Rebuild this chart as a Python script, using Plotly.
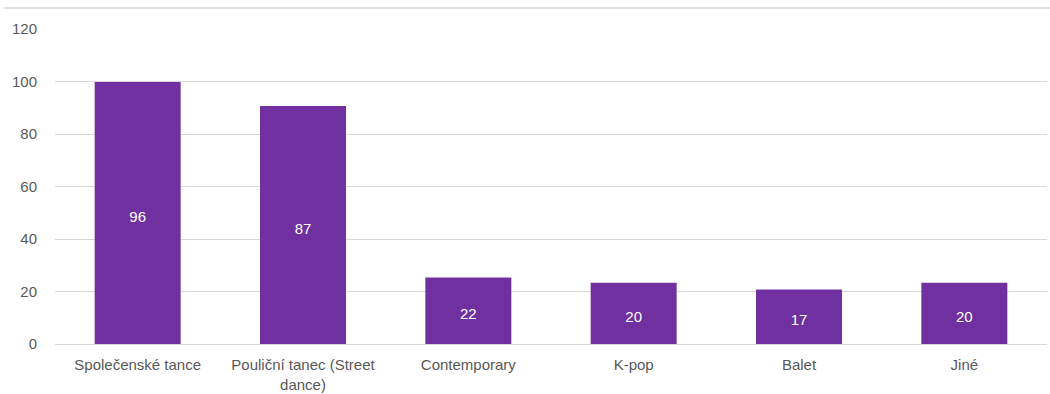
import plotly.graph_objects as go

categories = ["Společenské tance", "Pouliční tanec (Street<br>dance)", "Contemporary", "K-pop", "Balet", "Jiné"]
bar_heights = [99.8, 90.7, 25.3, 23.3, 20.8, 23.3]
label_values = [96, 87, 22, 20, 17, 20]
y_ticks = [0, 20, 40, 60, 80, 100, 120]

PURPLE = "#7030A0"
GRID = "#d9d9d9"
TEXT = "#595959"
FONT = "Liberation Sans"

fig = go.Figure()
fig.add_trace(go.Bar(
    x=categories, y=bar_heights,
    marker=dict(color=PURPLE, line=dict(width=0)),
    hoverinfo="skip",
))
fig.add_trace(go.Scatter(
    x=categories, y=[v / 2 for v in label_values],
    mode="text", text=[str(v) for v in label_values],
    textfont=dict(color="white", size=15, family=FONT),
    textposition="middle center", hoverinfo="skip",
))

fig.update_layout(
    width=1050, height=394,
    margin=dict(l=55, r=3, t=29, b=50),
    plot_bgcolor="white", paper_bgcolor="white",
    showlegend=False, bargap=0.48,
    font=dict(family=FONT, color=TEXT, size=15),
    shapes=[dict(type="line", xref="paper", yref="paper",
                 x0=-0.052, x1=1.003, y0=1.067, y1=1.067,
                 line=dict(color="#e0e0e0", width=2))],
)
fig.update_xaxes(showgrid=False, showline=False, zeroline=False, automargin=False,
                 tickfont=dict(size=15, color=TEXT, family=FONT),
                 ticks="outside", ticklen=7, tickcolor="rgba(0,0,0,0)")
fig.update_yaxes(range=[0, 120], tickvals=y_ticks, showgrid=True, gridcolor=GRID,
                 gridwidth=1, zeroline=True, zerolinecolor=GRID, zerolinewidth=1,
                 showline=False, automargin=False,
                 tickfont=dict(size=15, color=TEXT, family=FONT),
                 ticks="outside", ticklen=14, tickcolor="rgba(0,0,0,0)")

fig.write_html("out.html", config={"displayModeBar": False},
               post_script="document.body.style.margin='0';document.body.style.padding='0';document.body.style.overflow='hidden';")
